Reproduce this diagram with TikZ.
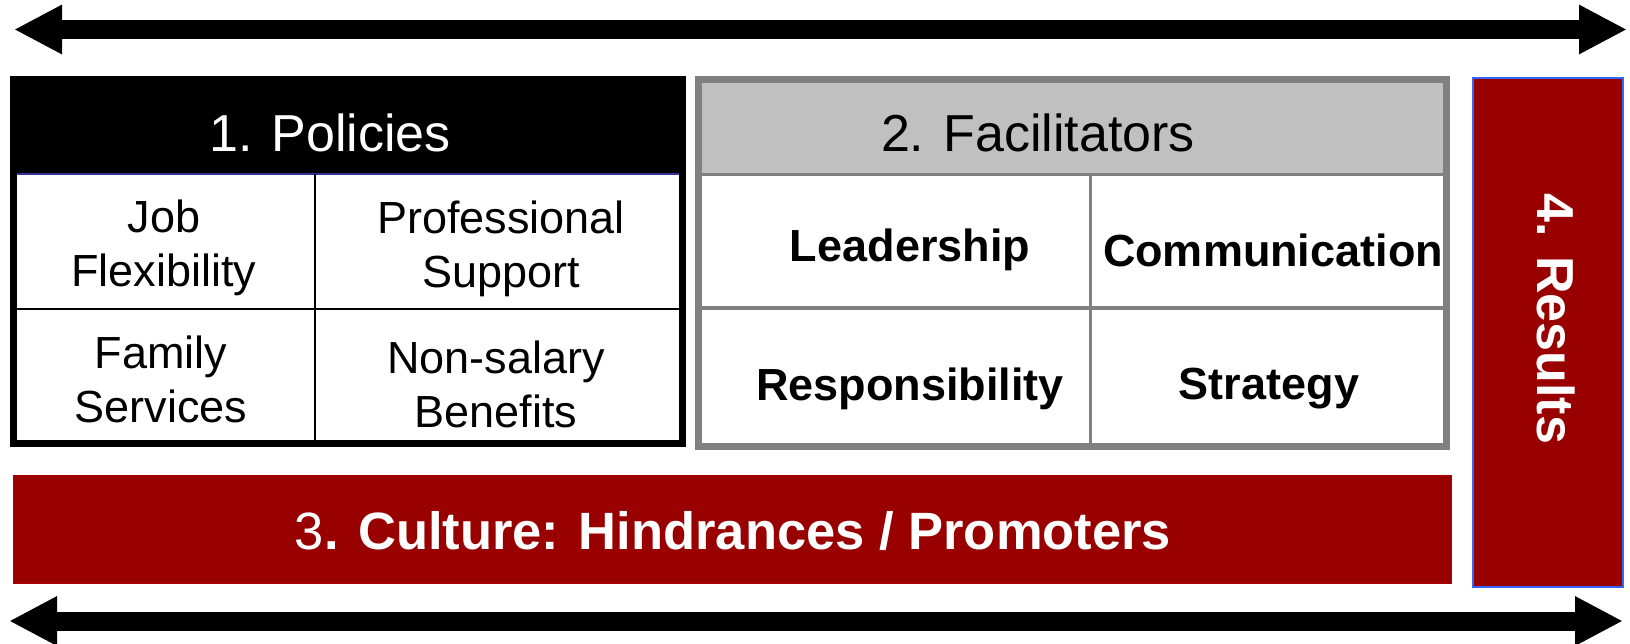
\documentclass[tikz,border=0pt]{standalone}
\usepackage{fontspec}
\setmainfont{Liberation Sans}
\usetikzlibrary{arrows.meta}
\definecolor{darkred}{HTML}{990000}
\definecolor{midgray}{HTML}{808080}
\definecolor{hdrgray}{HTML}{C0C0C0}
\definecolor{resblue}{HTML}{3366FF}
\definecolor{navyline}{HTML}{333399}
\begin{document}
\begin{tikzpicture}[x=1pt,y=-1pt,
  cell/.style={font=\fontsize{45}{54}\selectfont, align=center, inner sep=0pt},
  boldcell/.style={font=\fontsize{45}{54}\selectfont\bfseries, align=center, inner sep=0pt},
  headtext/.style={font=\fontsize{52}{60}\selectfont, inner sep=0pt},
  bigarrow/.style={line width=19pt, {Triangle[length=48pt,width=46pt]}-{Triangle[length=48pt,width=46pt]}},
  gridline/.style={line width=3pt, midgray},
  polline/.style={line width=2.5pt, black}
]
\useasboundingbox (0,0) rectangle (1630,644);

% arrows
\coordinate (tl) at (14,29.5);
\coordinate (tr) at (1627,29.5);
\coordinate (bl) at (9,621);
\coordinate (br) at (1623,621);
\draw[bigarrow] (tl) -- (tr);
\draw[bigarrow] (bl) -- (br);

% Policies
\fill[black] (10,76) rectangle (686,174);
\draw[navyline, line width=2pt] (17,174) -- (679,174);
\draw[polline] (315,174) -- (315,440);
\draw[polline] (17,309) -- (679,309);
\draw[line width=7pt, black] (13.5,79.5) rectangle (682.5,443);
\node[headtext, text=white] (pol) at (330,133) {1. Policies};
\node[cell] (job) at (164,248) {Job\\Flexibility};
\node[cell] (prof) at (501,249) {Professional\\Support};
\node[cell] (fam) at (161,379) {Family\\Services};
\node[cell] (nons) at (496,384) {Non-salary\\Benefits};

% Facilitators
\fill[hdrgray] (698,79) rectangle (1446,174);
\draw[gridline] (702,174.5) -- (1443,174.5);
\draw[gridline] (1090,175) -- (1090,443);
\draw[gridline] (702,308) -- (1443,308);
\draw[line width=7pt, midgray] (698.5,79.5) rectangle (1446,446);
\node[headtext] (fac) at (1038,133) {2. Facilitators};
\node[boldcell] (lead) at (910,250) {Leadership};
\node[boldcell] (comm) at (1273,250) {Communication};
\node[boldcell] (resp) at (910,389) {Responsibility};
\node[boldcell] (strat) at (1269,389) {Strategy};

% Culture
\draw[fill=darkred, draw=darkred!80!red, line width=1pt] (13,475) rectangle (1451,583);
\node[headtext, text=white, font=\fontsize{52.5}{60}\selectfont] (cult) at (733,531) {3\textbf{. Culture: Hindrances / Promoters}};

% Results
\draw[fill=darkred, draw=resblue, line width=2.5pt] (1473,78) rectangle (1623,587);
\node[headtext, text=white, rotate=-90, font=\fontsize{52}{60}\selectfont\bfseries] (res) at (1556,319) {4. Results};
\end{tikzpicture}
\end{document}
